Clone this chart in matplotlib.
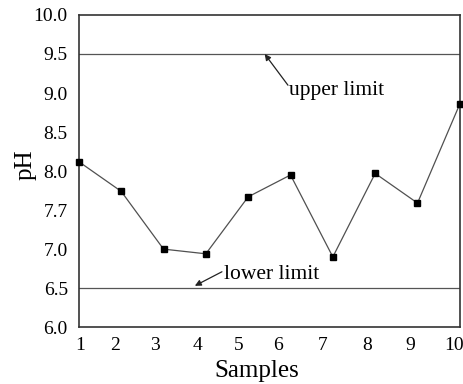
import matplotlib
matplotlib.use("Agg")
import matplotlib.pyplot as plt
from matplotlib.transforms import ScaledTranslation

samples = [1, 2, 3, 4, 5, 6, 7, 8, 9, 10]
ph_values = [8.12, 7.74, 7.00, 6.94, 7.67, 7.95, 6.90, 7.97, 7.59, 8.86]
upper_limit = 9.5
lower_limit = 6.5
y_ticks = [6.0, 6.5, 7.0, 7.5, 8.0, 8.5, 9.0, 9.5, 10.0]
y_tick_labels = ["6.0", "6.5", "7.0", "7.7", "8.0", "8.5", "9.0", "9.5", "10.0"]
x_tick_labels = ["1", "2", "3", "4", "5", "6", "7", "8", "9", "10"]

plt.rcParams['font.family'] = ['Liberation Serif', 'DejaVu Serif']

fig = plt.figure(figsize=(4.64, 3.84), dpi=100)
ax = fig.add_axes([0.170, 0.148, 0.821, 0.813])

ax.axhline(upper_limit, color='#555555', lw=0.9)
ax.axhline(lower_limit, color='#555555', lw=0.9)
ax.plot(samples, ph_values, color='#505050', lw=0.9, marker='s', markersize=5,
        markerfacecolor='black', markeredgecolor='black', clip_on=False, zorder=3)

ax.set_xlim(1, 10)
ax.set_ylim(6.0, 10.0)
ax.set_xticks(samples)
ax.set_xticklabels(x_tick_labels)
ax.set_yticks(y_ticks)
ax.set_yticklabels(y_tick_labels)
ax.tick_params(length=0, labelsize=14)
ax.tick_params(axis='y', pad=8)
ax.tick_params(axis='x', pad=7)
for s in ax.spines.values():
    s.set_linewidth(1.2)
    s.set_color('#333333')

# small horizontal shifts of x tick labels (pixels) as in the reference
label_shift_px = [1, -6, -9, -8, -10, -13, -10, -8, -7, -6]
for lab, dx in zip(ax.get_xticklabels(), label_shift_px):
    lab.set_transform(lab.get_transform() + ScaledTranslation(dx / 100, 0, fig.dpi_scale_trans))

ax.set_xlabel("Samples", fontsize=18)
ax.xaxis.set_label_coords(0.466, -0.105)
ax.set_ylabel("pH", fontsize=18)
ax.yaxis.set_label_coords(-0.11, 0.52)

arrow = dict(arrowstyle='-|>', color='#222222', lw=0.9, mutation_scale=9,
             shrinkA=0, shrinkB=0)
ax.annotate('', xy=(5.39, 9.50), xytext=(5.94, 9.10), arrowprops=arrow)
ax.text(5.97, 9.03, "upper limit", fontsize=15.5, ha='left', va='center')
ax.annotate('', xy=(3.74, 6.53), xytext=(4.38, 6.71), arrowprops=arrow)
ax.text(4.43, 6.68, "lower limit", fontsize=15.5, ha='left', va='center')

fig.savefig("out.png", dpi=100)
